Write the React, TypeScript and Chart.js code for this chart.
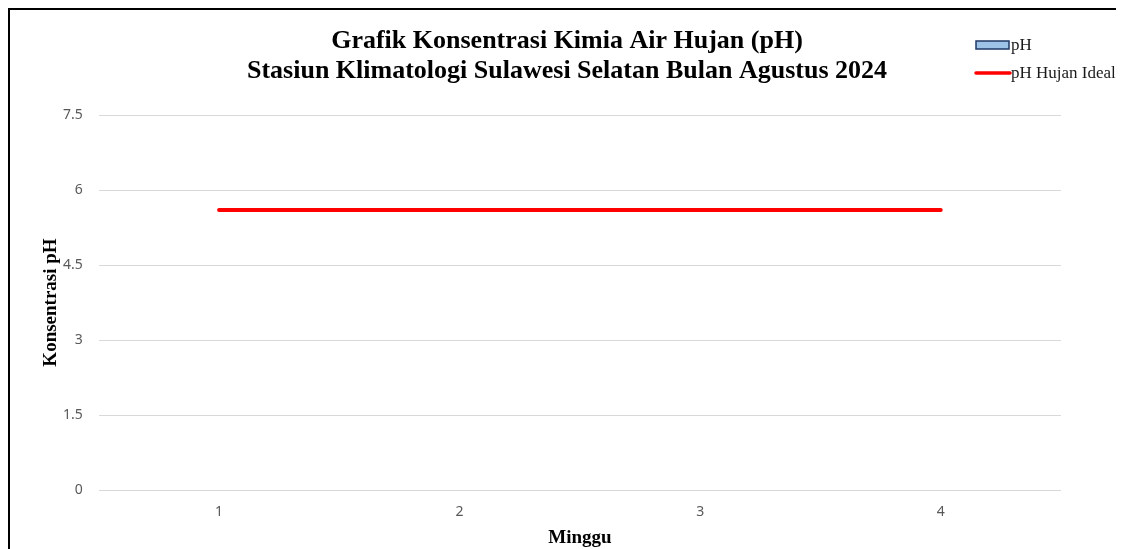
import React, { useEffect, useRef } from "react";
import { Chart, registerables } from "chart.js";

Chart.register(...registerables);

const categories = ["1", "2", "3", "4"];
const phValues: (number | null)[] = [null, null, null, null];
const idealValues = [5.6, 5.6, 5.6, 5.6];
const yTicks = [0, 1.5, 3, 4.5, 6, 7.5];
const titleLines = [
  "Grafik Konsentrasi Kimia Air Hujan (pH)",
  "Stasiun Klimatologi Sulawesi Selatan Bulan Agustus 2024",
];
const seriesNames = ["pH", "pH Hujan Ideal"];

const legendPlugin = {
  id: "customLegend",
  afterDraw(chart: any) {
    const ctx = chart.ctx;
    const ds = chart.data.datasets;
    ctx.save();
    ctx.font = "17px 'Liberation Serif'";
    ctx.textBaseline = "middle";
    ctx.textAlign = "left";
    // bar entry
    ctx.fillStyle = ds[0].backgroundColor;
    ctx.fillRect(966, 31, 33, 8);
    ctx.strokeStyle = ds[0].borderColor;
    ctx.lineWidth = 1.5;
    ctx.strokeRect(966, 31, 33, 8);
    ctx.fillStyle = "#1a1a1a";
    ctx.fillText(ds[0].label, 1001, 36);
    // line entry
    ctx.strokeStyle = ds[1].borderColor;
    ctx.lineWidth = 3.5;
    ctx.lineCap = "round";
    ctx.beginPath();
    ctx.moveTo(966, 63);
    ctx.lineTo(1000, 63);
    ctx.stroke();
    ctx.fillText(ds[1].label, 1001, 64);
    ctx.restore();
  },
};

export default function App() {
  const ref = useRef<HTMLCanvasElement>(null);
  useEffect(() => {
    document.documentElement.style.overflow = "hidden";
    document.body.style.overflow = "hidden";
    const chart = new Chart(ref.current!, {
      type: "bar",
      data: {
        labels: categories,
        datasets: [
          {
            type: "bar",
            label: seriesNames[0],
            data: phValues,
            backgroundColor: "#9DC3E6",
            borderColor: "#1F3864",
            borderWidth: 1,
            order: 2,
          } as any,
          {
            type: "line",
            label: seriesNames[1],
            data: idealValues,
            borderColor: "#FF0000",
            backgroundColor: "#FF0000",
            borderWidth: 4,
            pointRadius: 0,
            borderCapStyle: "round",
            order: 1,
          } as any,
        ],
      },
      options: {
        animation: false,
        responsive: true,
        maintainAspectRatio: false,
        layout: { padding: { left: 25, right: 25, top: 0, bottom: 0 } },
        plugins: {
          legend: { display: false },
          tooltip: { enabled: false },
          title: {
            display: true,
            text: titleLines,
            color: "#000000",
            font: { family: "'Liberation Serif'", size: 26, weight: "bold", lineHeight: 1.154 },
            padding: { top: 16, bottom: 29 },
          },
        },
        scales: {
          x: {
            offset: true,
            grid: { display: false, drawTicks: false },
            border: { display: false },
            ticks: {
              color: "#595959",
              font: { family: "'Noto Sans'", size: 14 },
              padding: 13.6,
            },
            title: {
              display: true,
              text: "Minggu",
              color: "#000000",
              font: { family: "'Liberation Serif'", size: 19, weight: "bold", lineHeight: 1.2 },
              padding: { top: -7.8, bottom: 0 },
            },
          },
          y: {
            min: 0,
            max: 7.5,
            afterBuildTicks: (axis: any) => {
              axis.ticks = yTicks.map((v) => ({ value: v }));
            },
            grid: { color: "#D9D9D9", lineWidth: 1, drawTicks: false },
            border: { display: false },
            ticks: {
              color: "#595959",
              font: { family: "'Noto Sans'", size: 14 },
              padding: 16,
              callback: (v: any) => String(v),
            },
            title: {
              display: true,
              text: "Konsentrasi pH",
              color: "#000000",
              font: { family: "'Liberation Serif'", size: 19, weight: "bold", lineHeight: 1.2 },
              padding: { top: 4.6, bottom: -15.4 },
            },
          },
          yRight: {
            position: "right",
            display: true,
            grid: { display: false, drawTicks: false },
            border: { display: false },
            ticks: { display: false },
            afterFit: (s: any) => {
              s.width = 38;
            },
          } as any,
        },
      },
      plugins: [legendPlugin],
    });
    return () => chart.destroy();
  }, []);
  return (
    <div
      style={{
        borderTop: "2px solid #000",
        borderLeft: "2px solid #000",
        width: 1114,
        height: 539,
        overflow: "hidden",
        background: "#fff",
      }}
    >
      <div style={{ position: "relative", width: 1114, height: 539 }}>
        <canvas ref={ref} />
      </div>
    </div>
  );
}
